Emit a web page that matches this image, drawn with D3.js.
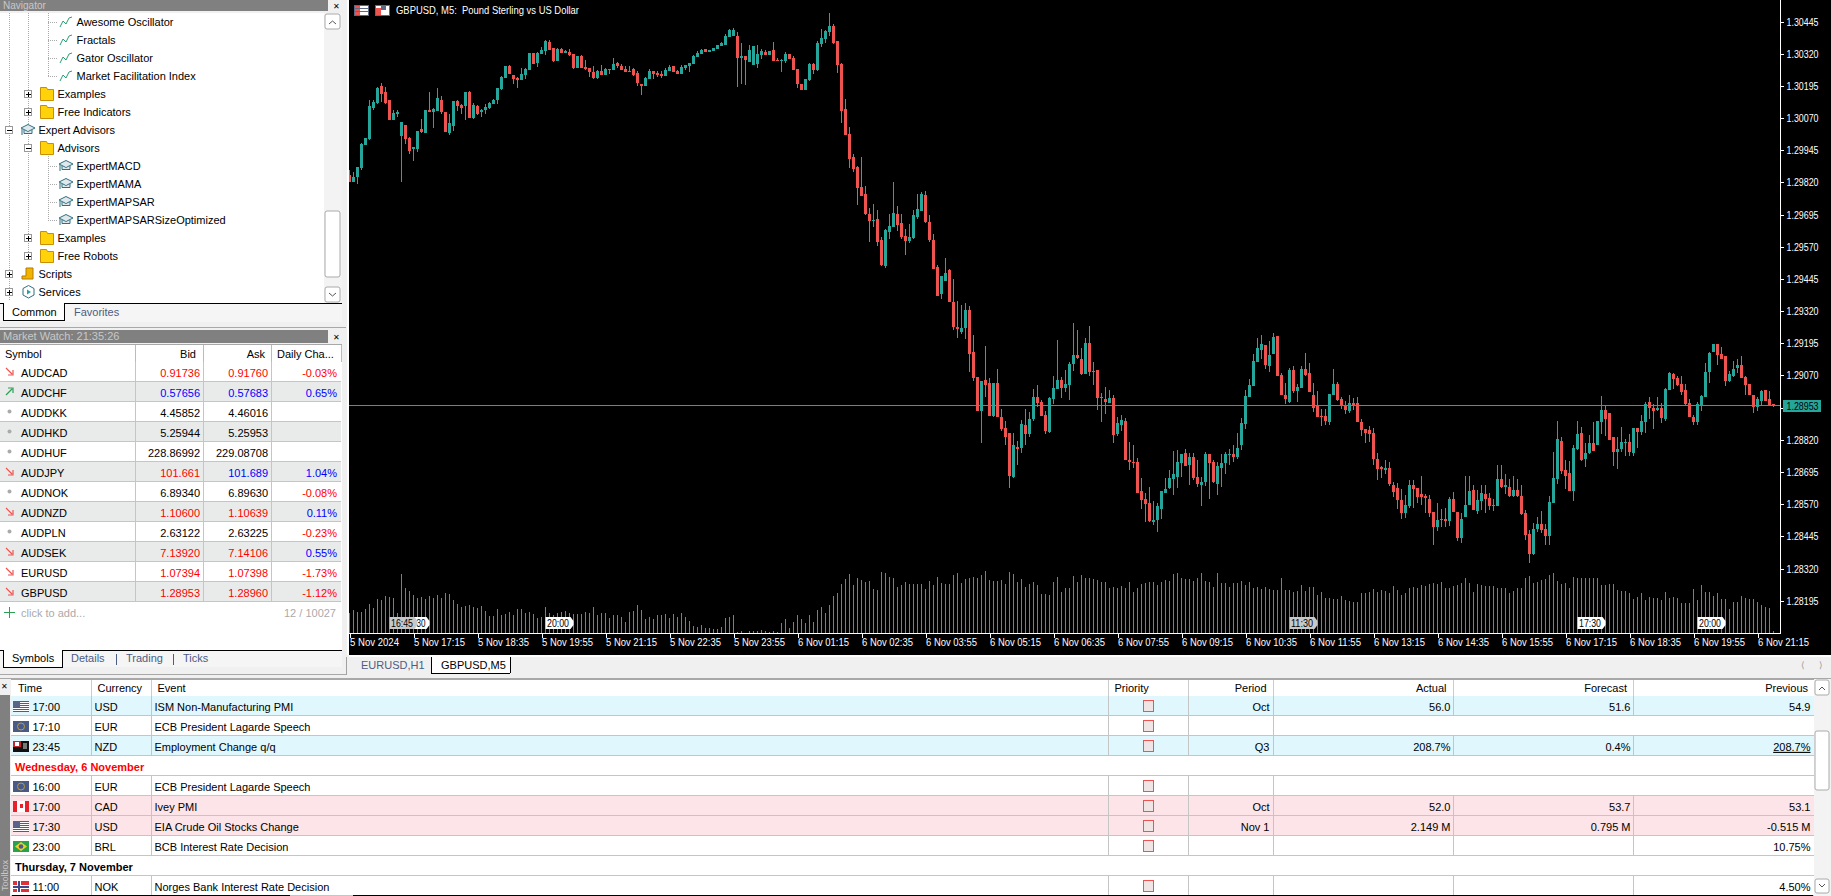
<!DOCTYPE html>
<html><head><meta charset="utf-8">
<script src="https://cdn.jsdelivr.net/npm/d3@7"></script>
<style>html,body{margin:0;padding:0;background:#f0f0f0;overflow:hidden}svg{display:block}text{font-family:"Liberation Sans",sans-serif;font-size:11px;white-space:pre}</style>
</head><body><div id="c"></div>
<script>
// Quotes are points above 1.00000 (29861 = 1.29861), one per 5-minute candle from 5 Nov 15:55.
const highs=[29868,29861,29880,29973,29993,30140,30140,30190,30206,30190,30140,30101,30101,30055,30043,29996,29958,30020,30066,30101,30171,30109,30187,30156,30093,30086,30136,30140,30124,30171,30175,30128,30121,30105,30124,30132,30144,30187,30233,30272,30276,30237,30229,30264,30264,30322,30322,30326,30346,30373,30373,30342,30342,30342,30334,30338,30318,30311,30315,30295,30264,30272,30256,30276,30264,30260,30303,30287,30280,30272,30272,30264,30253,30202,30229,30260,30253,30253,30253,30264,30276,30272,30256,30276,30276,30284,30315,30330,30338,30338,30334,30342,30353,30365,30396,30415,30419,30404,30361,30311,30353,30350,30353,30338,30334,30330,30365,30303,30299,30326,30318,30311,30260,30202,30221,30284,30284,30369,30415,30412,30478,30435,30369,30284,30144,30035,29930,29884,29919,29806,29721,29736,29713,29608,29639,29698,29822,29729,29698,29639,29659,29713,29775,29783,29787,29694,29620,29500,29457,29527,29484,29445,29360,29345,29352,29341,29228,29065,29050,29186,29061,29042,29096,28941,28895,28848,28848,28817,28898,28941,28929,29019,29034,28976,28933,28988,29069,29209,29065,29092,29123,29275,29248,29178,29217,29263,29123,29092,29003,29026,29015,28995,28910,28918,28906,28813,28798,28751,28673,28615,28635,28584,28576,28623,28673,28704,28778,28782,28766,28786,28770,28770,28743,28677,28774,28763,28743,28735,28766,28774,28786,28801,28848,28906,29015,29057,29154,29217,29228,29189,29205,29236,29224,29081,29042,29100,29108,29038,
29107,29158,29119,29042,29011,28938,28938,28999,29095,29046,28985,28969,28993,28981,28985,28902,28863,28874,28867,28767,28717,28741,28733,28656,28652,28630,28607,28664,28664,28634,28681,28611,28607,28538,28573,28553,28557,28599,28618,28538,28534,28678,28681,28645,28626,28645,28645,28615,28591,28721,28721,28689,28666,28678,28666,28643,28546,28469,28496,28520,28542,28492,28603,28771,28895,28832,28741,28737,28798,28895,28870,28806,28839,28889,28895,28989,28952,28926,28832,28832,28870,28824,28843,28867,28867,28918,28965,28985,28958,28985,28962,29023,29084,29080,29068,29068,29038,28977,28918,28965,28996,29119,29162,29191,29193,29182,29144,29088,29128,29132,29144,29068,29038,28996,28985,29015,29015,29011,28960];
const lows=[29822,29822,29814,29868,29965,29985,30101,30124,30132,30124,30062,30062,30074,29822,29969,29930,29903,29938,30012,30012,30093,30031,30097,30086,30016,30004,30020,30097,30086,30062,30070,30066,30082,30074,30086,30105,30124,30124,30179,30225,30241,30202,30187,30218,30221,30256,30280,30268,30318,30315,30334,30287,30291,30322,30322,30311,30260,30264,30264,30256,30229,30221,30221,30237,30237,30241,30256,30264,30256,30249,30249,30233,30194,30159,30194,30221,30221,30229,30225,30233,30253,30249,30241,30241,30256,30249,30280,30307,30318,30326,30326,30330,30338,30350,30353,30384,30388,30190,30202,30198,30287,30276,30264,30299,30315,30315,30291,30291,30249,30284,30299,30256,30187,30179,30179,30214,30241,30253,30346,30361,30388,30357,30245,30051,30004,29876,29861,29733,29768,29694,29589,29647,29574,29496,29488,29601,29647,29632,29601,29539,29585,29601,29678,29709,29663,29589,29484,29380,29368,29438,29356,29248,29217,29232,29213,29085,29050,28933,28809,28988,28914,28910,28910,28856,28801,28631,28673,28724,28770,28798,28829,28895,28949,28914,28844,28848,28960,29019,28984,29007,28976,29089,29135,29073,29077,29069,29034,28937,28891,28922,28964,28809,28836,28856,28743,28704,28712,28615,28553,28499,28499,28491,28460,28514,28615,28627,28604,28631,28677,28720,28646,28662,28635,28561,28642,28592,28654,28607,28638,28689,28724,28732,28747,28782,28863,28988,29030,29123,29135,29096,29085,29154,29069,28995,28960,28964,29003,28968,
29023,29068,29007,28928,28910,28874,28877,28877,28993,28969,28938,28920,28926,28935,28889,28836,28809,28813,28721,28662,28670,28687,28641,28599,28553,28512,28516,28557,28557,28573,28565,28534,28522,28412,28465,28481,28481,28485,28538,28425,28418,28520,28565,28546,28530,28546,28534,28546,28542,28561,28634,28611,28599,28599,28599,28526,28429,28343,28374,28462,28458,28410,28410,28573,28650,28689,28630,28622,28583,28782,28737,28713,28763,28778,28798,28843,28836,28820,28717,28706,28771,28756,28759,28759,28790,28839,28847,28899,28863,28930,28887,28895,29015,29019,29030,28996,28954,28910,28879,28879,28930,28985,29042,29160,29112,29132,29030,29046,29064,29080,29060,28996,28993,28926,28930,28952,28972,28952,28948];
const opens=[29849,29822,29841,29876,29965,29989,30109,30128,30194,30171,30140,30062,30086,30000,30043,29993,29950,29950,30027,30012,30101,30093,30097,30140,30093,30012,30039,30136,30121,30117,30171,30070,30117,30093,30101,30109,30124,30140,30183,30225,30272,30237,30225,30218,30237,30256,30322,30284,30318,30330,30365,30342,30291,30338,30322,30326,30318,30264,30311,30268,30264,30249,30225,30253,30237,30256,30256,30284,30272,30260,30249,30260,30245,30202,30194,30221,30253,30245,30241,30233,30253,30272,30253,30241,30264,30272,30280,30307,30318,30338,30326,30330,30338,30350,30353,30384,30388,30388,30303,30311,30287,30276,30280,30315,30326,30315,30334,30295,30291,30291,30318,30303,30260,30202,30179,30218,30280,30256,30357,30377,30404,30427,30369,30280,30105,30008,29919,29880,29802,29775,29698,29671,29678,29597,29496,29628,29647,29698,29663,29612,29593,29605,29686,29709,29771,29667,29597,29492,29387,29438,29480,29356,29259,29240,29255,29325,29162,29065,28933,29054,29042,28914,29042,28910,28867,28848,28677,28794,28790,28879,28844,28902,28988,28968,28918,28852,28980,29019,29054,29023,29034,29116,29151,29135,29077,29197,29085,29092,28988,28980,28964,28984,28844,28879,28895,28743,28735,28735,28623,28592,28576,28499,28510,28553,28615,28631,28669,28677,28728,28770,28724,28755,28677,28646,28658,28763,28735,28650,28712,28728,28763,28763,28755,28798,28883,28988,29030,29123,29170,29189,29108,29154,29224,29073,28995,28968,29092,29011,
29023,29095,29080,28996,28950,28914,28914,28889,28996,29038,28977,28954,28932,28962,28962,28889,28863,28859,28847,28744,28713,28702,28710,28645,28634,28587,28534,28561,28645,28634,28611,28603,28591,28538,28481,28508,28512,28504,28591,28538,28437,28520,28565,28626,28542,28581,28611,28595,28561,28561,28666,28638,28638,28603,28626,28603,28534,28453,28378,28473,28492,28473,28445,28573,28666,28817,28704,28693,28622,28786,28847,28744,28767,28809,28798,28891,28936,28926,28832,28771,28786,28809,28813,28767,28867,28851,28891,28965,28942,28936,28942,28899,29015,29076,29060,29038,29015,28962,28910,28891,28954,28985,29084,29160,29193,29155,29144,29050,29068,29099,29111,29064,29038,28993,28948,28969,29015,28977,28960];
const closes=[29822,29841,29880,29969,29993,30117,30132,30187,30163,30128,30062,30090,30093,30055,29989,29942,29958,30020,30016,30101,30093,30105,30148,30093,30016,30051,30136,30117,30109,30171,30070,30121,30086,30101,30113,30128,30140,30187,30229,30272,30241,30221,30218,30241,30260,30322,30280,30322,30334,30369,30334,30291,30338,30322,30330,30315,30264,30311,30264,30260,30249,30225,30253,30237,30260,30260,30280,30272,30256,30249,30253,30237,30206,30194,30225,30253,30241,30237,30233,30256,30268,30249,30241,30268,30276,30284,30311,30322,30334,30326,30334,30342,30353,30361,30388,30412,30412,30303,30311,30295,30334,30350,30318,30330,30315,30330,30291,30291,30295,30318,30299,30256,30202,30179,30221,30280,30256,30361,30381,30408,30427,30361,30276,30097,30004,29911,29872,29799,29768,29698,29671,29674,29589,29500,29636,29651,29702,29655,29608,29593,29608,29694,29717,29775,29667,29597,29484,29380,29457,29469,29356,29259,29251,29255,29325,29154,29061,28933,29050,29034,28914,29042,28910,28863,28832,28681,28798,28786,28883,28844,28902,28988,28964,28914,28856,28984,29023,29054,29023,29038,29116,29151,29139,29077,29197,29085,29089,28984,28984,28968,28984,28840,28887,28898,28743,28735,28732,28615,28588,28572,28503,28510,28561,28623,28627,28673,28689,28732,28766,28720,28755,28673,28650,28658,28766,28728,28658,28720,28728,28766,28766,28755,28790,28887,28992,29034,29127,29178,29193,29112,29151,29220,29069,28995,28980,29092,29011,29026,
29095,29072,29007,28942,28910,28908,28893,28999,29038,28973,28954,28935,28962,28954,28889,28859,28847,28843,28744,28706,28706,28710,28648,28618,28587,28534,28565,28645,28630,28599,28599,28595,28534,28481,28508,28512,28504,28591,28538,28437,28512,28565,28622,28546,28587,28615,28591,28561,28565,28666,28638,28643,28603,28626,28603,28530,28449,28378,28473,28492,28469,28445,28577,28670,28824,28697,28678,28622,28790,28843,28741,28767,28809,28778,28895,28936,28899,28820,28771,28786,28813,28813,28771,28867,28851,28895,28958,28942,28930,28944,28906,29019,29080,29057,29034,29007,28958,28910,28891,28958,28989,29084,29158,29191,29151,29134,29050,29076,29095,29111,29060,29034,28993,28948,28977,29011,28972,28956,28952];
const volumes=[60,69,64,64,71,87,76,101,99,111,107,105,60,177,135,127,114,105,107,102,111,105,113,105,120,118,99,87,79,81,84,77,74,81,66,51,51,72,54,56,62,54,72,72,59,63,57,44,47,79,59,54,59,62,67,60,56,56,56,64,61,78,54,61,59,44,54,54,49,34,62,65,84,69,41,47,41,54,54,57,44,57,49,61,47,37,21,19,24,14,14,11,12,19,44,49,54,2,7,1,7,7,7,9,7,4,7,4,29,41,14,34,54,41,31,54,34,69,77,61,84,111,119,147,162,177,144,164,159,153,157,131,129,182,179,167,164,137,143,153,147,147,147,147,132,156,144,169,151,148,147,174,179,150,162,164,169,164,174,186,159,155,156,159,147,183,177,153,162,139,147,154,144,
117,117,114,154,167,124,134,134,172,154,174,164,164,161,159,154,154,134,139,136,141,134,152,122,134,146,149,154,154,144,154,159,157,177,181,164,161,161,157,164,179,157,154,139,181,149,149,139,151,149,157,144,154,134,139,131,139,131,129,129,164,129,129,124,127,144,127,139,139,114,124,104,104,101,101,111,99,96,94,94,119,121,124,131,124,129,127,119,141,129,114,119,134,137,134,144,141,147,151,147,154,134,134,141,144,149,164,149,124,147,144,141,141,141,134,134,134,121,127,134,134,164,171,151,154,159,161,174,179,157,147,151,134,169,166,166,164,166,166,164,144,144,147,147,129,127,127,121,101,109,119,99,107,104,104,99,122,104,107,104,91,89,89,132,99,144,122,124,111,119,101,101,71,94,94,111,104,101,101,94,84,79,76,6];
const priceTicks=[1.30445,1.3032,1.30195,1.3007,1.29945,1.2982,1.29695,1.2957,1.29445,1.2932,1.29195,1.2907,1.28945,1.2882,1.28695,1.2857,1.28445,1.2832,1.28195];
const timeTicks=[0,16,32,48,64,80,96,112,128,144,160,176,192,208,224,240,256,272,288,304,320,336,352];
const timeLabels=["5 Nov 2024","5 Nov 17:15","5 Nov 18:35","5 Nov 19:55","5 Nov 21:15","5 Nov 22:35","5 Nov 23:55","6 Nov 01:15","6 Nov 02:35","6 Nov 03:55","6 Nov 05:15","6 Nov 06:35","6 Nov 07:55","6 Nov 09:15","6 Nov 10:35","6 Nov 11:55","6 Nov 13:15","6 Nov 14:35","6 Nov 15:55","6 Nov 17:15","6 Nov 18:35","6 Nov 19:55","6 Nov 21:15"];
const bidPrice=1.28953;
const eventTags=[["30",13,"#fff"],["16:45",10,"#c8c8c8"],["20:00",49,"#fff"],["11:30",235,"#c8c8c8"],["17:30",307,"#fff"],["20:00",337,"#fff"]];
const navRows=[["Awesome Oscillator",3,"ind"],["Fractals",3,"ind"],["Gator Oscillator",3,"ind"],["Market Facilitation Index",3,"ind"],["Examples",2,"plus"],["Free Indicators",2,"plus"],["Expert Advisors",1,"capminus"],["Advisors",2,"minus"],["ExpertMACD",3,"cap"],["ExpertMAMA",3,"cap"],["ExpertMAPSAR",3,"cap"],["ExpertMAPSARSizeOptimized",3,"cap"],["Examples",2,"plus"],["Free Robots",2,"plus"],["Scripts",1,"script"],["Services",1,"gear"]];
const watchSymbols=["AUDCAD","AUDCHF","AUDDKK","AUDHKD","AUDHUF","AUDJPY","AUDNOK","AUDNZD","AUDPLN","AUDSEK","EURUSD","GBPUSD"];
const watchBid=["0.91736","0.57656","4.45852","5.25944","228.86992","101.661","6.89340","1.10600","2.63122","7.13920","1.07394","1.28953"];
const watchAsk=["0.91760","0.57683","4.46016","5.25953","229.08708","101.689","6.89630","1.10639","2.63225","7.14106","1.07398","1.28960"];
const watchChange=["-0.03%","0.65%","","","","1.04%","-0.08%","0.11%","-0.23%","0.55%","-1.73%","-1.12%"];
const watchTrend=["d","u","n","n","n","d","n","d","n","d","d","d"];
const watchBidColor=["r","b","k","k","k","r","k","r","k","r","r","r"];
const watchAskColor=["r","b","k","k","k","b","k","r","k","r","r","r"];
const calendarRows=[["17:00","USD","ISM Non-Manufacturing PMI","Oct","56.0","51.6","54.9","us","#e1f7fe"],["17:10","EUR","ECB President Lagarde Speech","","","","","eu","#fff"],["23:45","NZD","Employment Change q/q","Q3","208.7%","0.4%","208.7%","nz","#e1f7fe"],["Wednesday, 6 November"],["16:00","EUR","ECB President Lagarde Speech","","","","","eu","#fff"],["17:00","CAD","Ivey PMI","Oct","52.0","53.7","53.1","ca","#fde4e8"],["17:30","USD","EIA Crude Oil Stocks Change","Nov 1","2.149 M","0.795 M","-0.515 M","us","#fde4e8"],["23:00","BRL","BCB Interest Rate Decision","","","","10.75%","br","#fff"],["Thursday, 7 November"],["11:00","NOK","Norges Bank Interest Rate Decision","","","","4.50%","no","#fff"]];

const W=1831,H=896,GREEN="#26a69a",RED="#ef5350",TABTXT="#4c5c84",FONT='"Liberation Sans",sans-serif';
const svg=d3.select("#c").append("svg").attr("width",W).attr("height",H).attr("viewBox",`0 0 ${W} ${H}`);
const R=(g,x,y,w,h,f,s)=>g.append("rect").attr("x",x).attr("y",y).attr("width",w).attr("height",h).attr("fill",f||"none").attr("stroke",s||"none").attr("shape-rendering","crispEdges");
const L=(g,x1,y1,x2,y2,s,d)=>g.append("line").attr("x1",x1).attr("y1",y1).attr("x2",x2).attr("y2",y2).attr("stroke",s).attr("shape-rendering","crispEdges").attr("stroke-dasharray",d||null);
const T=(g,t,x,y,o={})=>{const e=g.append("text").text(t).attr("x",x).attr("y",y).attr("dy","0.35em").attr("fill",o.f||"#000").attr("text-anchor",o.a||"start").attr("font-weight",o.w||null).style("font-size",o.s?o.s+"px":null);if(o.len)e.attr("textLength",o.len).attr("lengthAdjust","spacingAndGlyphs");return e;};
R(svg,0,0,W,H,"#f0f0f0");

/* ---------- chart ---------- */
const ch=svg.append("g");
R(ch,347,0,2,655,"#fff");
R(ch,349,0,W-349,655,"#000");
R(ch,349,655,W-349,2,"#fff");
const x=d3.scaleLinear().domain([0,356]).range([349.5,1773.5]);
const y=d3.scaleLinear().domain([1.30445,1.28195]).range([21.5,600.7]);
const vy=d3.scaleLinear().domain([0,300]).range([633,533]);
const px=v=>y(1+v/1e5);
const clipDef=svg.append("defs").append("clipPath").attr("id","plot");
clipDef.append("rect").attr("x",349).attr("y",0).attr("width",1431).attr("height",633);
const plot=ch.append("g").attr("clip-path","url(#plot)");
plot.selectAll(".vol").data(volumes).join("rect").attr("class","vol").attr("x",(d,i)=>Math.round(x(i)-.5)).attr("width",1).attr("y",d=>vy(d)).attr("height",d=>vy(0)-vy(d)).attr("fill",GREEN).attr("shape-rendering","crispEdges");
const candles=closes.map((c,i)=>({i,o:opens[i],h:highs[i],l:lows[i],c}));
plot.selectAll(".wick").data(candles).join("rect").attr("class","wick").attr("x",d=>Math.round(x(d.i)-.5)).attr("width",1)
 .attr("y",d=>Math.round(px(d.h))).attr("height",d=>Math.max(1,Math.round(px(d.l))-Math.round(px(d.h))))
 .attr("fill",d=>d.c>=d.o?GREEN:RED).attr("shape-rendering","crispEdges");
plot.selectAll(".body").data(candles).join("rect").attr("class","body").attr("x",d=>Math.round(x(d.i)-1.5)).attr("width",3)
 .attr("y",d=>Math.round(px(Math.max(d.o,d.c)))).attr("height",d=>Math.max(1,Math.round(px(Math.min(d.o,d.c)))-Math.round(px(Math.max(d.o,d.c)))))
 .attr("fill",d=>d.c>=d.o?GREEN:RED).attr("shape-rendering","crispEdges");
// bid line
L(ch,349,Math.round(y(bidPrice))-.5,1780,Math.round(y(bidPrice))-.5,GREEN);
// axes
const axR=d3.axisRight(y).tickValues(priceTicks).tickSize(3).tickFormat(d3.format(".5f"));
const gR=ch.append("g").attr("transform","translate(1780.5,0)").call(axR);
gR.select(".domain").remove();
L(ch,1780.5,0,1780.5,633,"#fff");
gR.selectAll("line").attr("stroke","#fff").attr("shape-rendering","crispEdges");
gR.selectAll("text").attr("fill","#fff").attr("x",6).attr("textLength",32).attr("lengthAdjust","spacingAndGlyphs").style("font-size","11px").style("font-family",FONT);
const axB=d3.axisBottom(x).tickValues(timeTicks).tickSize(4).tickFormat((d,i)=>timeLabels[i]);
const gB=ch.append("g").attr("transform","translate(0,633.5)").call(axB);
gB.select(".domain").remove();
L(ch,349,633.5,1780.5,633.5,"#fff");
gB.selectAll("line").attr("stroke","#fff").attr("shape-rendering","crispEdges");
gB.selectAll("text").attr("fill","#fff").attr("text-anchor","start").attr("y",5).attr("textLength",(d,i)=>i?51:49).attr("lengthAdjust","spacingAndGlyphs").style("font-size","11px").style("font-family",FONT);
// bid tag
const by=Math.round(y(bidPrice));
R(ch,1783,by-6,38,12,GREEN);
T(ch,d3.format(".5f")(bidPrice),1786.5,by,{s:11,len:32});
// event tags
eventTags.forEach(([t,i,c])=>{const x0=x(i),full=t.length>2;
  ch.append("path").attr("d",`M${x0} 617h25l3 4v4l-3 4h-25z`).attr("fill",c);
  T(ch,t,full?x0+1.5:x0+15,623,{s:10.5,len:full?22:9});
});
// header
const hdr=ch.append("g");
R(hdr,354.5,5.5,14,10,"#fff","#5c6a85");
R(hdr,355,6,5,9,"#ef5350");L(hdr,355,8.5,368,8.5,"#5c6a85");L(hdr,355,11.5,368,11.5,"#5c6a85");
R(hdr,375.5,5.5,14,10,"#fff","#5c6a85");R(hdr,376,8,5,7,"#ef5350");R(hdr,381,6,5,4,"#5c6a85");
T(hdr,"GBPUSD, M5:  Pound Sterling vs US Dollar",396,10,{f:"#fff",s:11,len:183});
// tabs under chart
R(svg,0,677.5,W,1,"#a8a8a8");
T(svg,"EURUSD,H1",361,665,{f:TABTXT});
R(svg,431,657,79,16,"#fff");L(svg,431,657,431,673,"#000");L(svg,510,657,510,673,"#000");L(svg,431,673.5,510,673.5,"#000");
T(svg,"GBPUSD,M5",441,665);
L(svg,346.5,657,346.5,675,"#a0a0a0");
T(svg,"⟨",1801,665,{f:"#999",s:9});T(svg,"⟩",1819,665,{f:"#999",s:9});

/* ---------- navigator ---------- */
const nav=svg.append("g");
R(nav,0,0,328,11,"#808080");
T(nav,"Navigator",3,5.5,{f:"#c8c8c8",s:10});
T(nav,"✕",333,6,{s:8});
R(nav,0,13,324,290,"#fff");
R(nav,324,13,18,290,"#f3f3f3");
nav.append("rect").attr("x",325).attr("y",14).attr("width",15).attr("height",15).attr("rx",2).attr("fill","#fff").attr("stroke","#aaa");
nav.append("rect").attr("x",325).attr("y",211).attr("width",15).attr("height",66).attr("rx",2).attr("fill","#fff").attr("stroke","#aaa");
nav.append("rect").attr("x",325).attr("y",287).attr("width",15).attr("height",15).attr("rx",2).attr("fill","#fff").attr("stroke","#aaa");
nav.append("path").attr("d","M329 24l3.5-3 3.5 3").attr("fill","none").attr("stroke","#555");
nav.append("path").attr("d","M329 293l3.5 3 3.5-3").attr("fill","none").attr("stroke","#555");
const dots="1,1";
L(nav,9.5,13,9.5,300,"#aaa",dots);L(nav,28.5,13,28.5,256,"#aaa",dots);L(nav,48.5,13,48.5,76,"#aaa",dots);L(nav,48.5,148,48.5,220,"#aaa",dots);
const box=(g,cx,cy,plus)=>{R(g,cx-3.5,cy-3.5,7,7,"#fff","#999");L(g,cx-2,cy+.5,cx+3,cy+.5,"#000");if(plus)L(g,cx+.5,cy-2,cx+.5,cy+3,"#000");};
const folder=(g,cy)=>{g.append("path").attr("d",`M40.5 ${cy-6.5}h6l1 2h6v11h-13z`).attr("fill","#ffd20a").attr("stroke","#c88f00");};
const cap=(g,cx,cy)=>{g.append("path").attr("d",`M${cx-7} ${cy-2}l7-3.5 7 3.5-7 3.5z M${cx-4} ${cy}v3.5h8v-3.5`).attr("fill","#dfe8ec").attr("stroke","#2f6f7f");g.append("path").attr("d",`M${cx-6} ${cy-1}v6`).attr("stroke","#2f6f7f").attr("fill","none");};
navRows.forEach(([t,lv,ic],k)=>{const cy=22+18*k,tx=lv===3?76.5:lv===2?57.5:38.5;
  T(nav,t,tx,cy,{});
  if(lv===3)L(nav,48,cy+.5,58,cy+.5,"#aaa",dots);
  if(ic==="ind"){nav.append("path").attr("d",`M60 ${cy+5}l3-6 3 3 3-6 3-1`).attr("fill","none").attr("stroke","#2aa070");}
  if(ic==="cap")cap(nav,66,cy);
  if(lv===2){box(nav,28,cy,ic==="plus");folder(nav,cy);}
  if(lv===1){box(nav,9,cy,ic==="capminus"?false:true);}
  if(ic==="capminus")cap(nav,28,cy);
  if(ic==="script"){nav.append("path").attr("d",`M26 ${cy-6}h7v11h-11v-3h4z`).attr("fill","#f3b400").attr("stroke","#b27d00");}
  if(ic==="gear"){nav.append("path").attr("d",`M28.5 ${cy-6.5}l5.5 3v6.5l-5.5 3-5.5-3v-6.5z`).attr("fill","#fff").attr("stroke","#2f6f7f");nav.append("path").attr("d",`M27 ${cy-2.5}l4 2.5-4 2.5z`).attr("fill","#2aa0a0");}
});
L(nav,0,303.5,342,303.5,"#000");
R(nav,0,304,342,18,"#f5f5f5");
R(nav,3,303,61,17,"#fff");L(nav,3,303,3,320,"#000");L(nav,64.5,303,64.5,320,"#000");L(nav,3,320.5,65,320.5,"#000");
T(nav,"Common",12,312,{});T(nav,"Favorites",74,312,{f:TABTXT});
R(nav,0,326.5,346,1,"#a8a8a8");

/* ---------- market watch ---------- */
const mw=svg.append("g");
R(mw,0,330,328,13,"#808080");
T(mw,"Market Watch: 21:35:26",3,336,{f:"#c8c8c8"});
T(mw,"✕",333,337,{s:8});
R(mw,0,344,342,306,"#fff");
L(mw,0,344.5,342,344.5,"#a8a8a8");
[135.5,203.5,271.5,341.5].forEach(v=>L(mw,v,345,v,362,"#bbb"));
T(mw,"Symbol",5,354);T(mw,"Bid",196,354,{a:"end"});T(mw,"Ask",265,354,{a:"end"});T(mw,"Daily Cha...",277,354);
const tone={r:"#f00",b:"#00f",k:"#000"};
const chgColor=s=>s[0]==="-"?"#f00":"#00f";
watchSymbols.forEach((s,k)=>{const cy=373+20*k,top=362+20*k;
  if(k%2)R(mw,0,top,341,20,"#e9eaea");
  L(mw,0,top+19.5,341,top+19.5,"#c4c6c6");
});
[135.5,203.5,271.5].forEach(v=>L(mw,v,362,v,602,"#c4c6c6"));
watchSymbols.forEach((s,k)=>{const cy=373+20*k;
  const tr=watchTrend[k];
  if(tr==="d")mw.append("path").attr("d",`M6 ${cy-5}l6 6 M13 ${cy-3}v5h-5`).attr("stroke","#ef5350").attr("fill","none").attr("stroke-width",1.2);
  else if(tr==="u")mw.append("path").attr("d",`M6 ${cy+2}l6-6 M8 ${cy-5}h5v5`).attr("stroke","#2aa052").attr("fill","none").attr("stroke-width",1.2);
  else mw.append("circle").attr("cx",9.5).attr("cy",cy-1.5).attr("r",2).attr("fill","#aaa");
  T(mw,s,21,cy);
  T(mw,watchBid[k],200,cy,{a:"end",f:tone[watchBidColor[k]]});
  T(mw,watchAsk[k],268,cy,{a:"end",f:tone[watchAskColor[k]]});
  if(watchChange[k])T(mw,watchChange[k],337,cy,{a:"end",f:chgColor(watchChange[k])});
});
mw.append("path").attr("d","M9.5 607v11M4 612.5h11").attr("stroke","#2aa052").attr("fill","none");
T(mw,"click to add...",21,613,{f:"#aaa"});T(mw,"12 / 10027",336,613,{a:"end",f:"#aaa"});
L(mw,0,650.5,342,650.5,"#000");
R(mw,0,651,342,16,"#f5f5f5");
R(mw,3,650,59,17,"#fff");L(mw,3,650,3,667,"#000");L(mw,62.5,650,62.5,667,"#000");L(mw,3,667.5,63,667.5,"#000");
T(mw,"Symbols",12,658);T(mw,"Details",71,658,{f:TABTXT});T(mw,"Trading",126,658,{f:TABTXT});T(mw,"Ticks",183,658,{f:TABTXT});
L(mw,116.5,654,116.5,665,TABTXT);L(mw,173.5,654,173.5,665,TABTXT);
R(mw,0,673.5,346,1,"#a8a8a8");

/* ---------- calendar ---------- */
const cal=svg.append("g");
R(cal,11,679,1803,217,"#fff");
L(cal,11,679.5,1814,679.5,"#a8a8a8");
const colX=[91.5,151.5,1108.5,1188.5,1273.5,1453.5,1633];
T(cal,"✕",1,686,{s:8});
R(cal,0,695,10,201,"#808080");
cal.append("text").text("Toolbox").attr("transform","translate(8,891) rotate(-90)").attr("fill","#c8c8c8").style("font-size","9px");
calendarRows.forEach((r,k)=>{const top=696+20*k;
  R(cal,11,top,1803,20,r.length>1?r[8]:"#fff");
  L(cal,11,top+19.5,1814,top+19.5,"#c4c6c6");
});
colX.forEach(v=>L(cal,v,680,v,696,"#ccc"));
["Time","Currency","Event"].forEach((t,i)=>T(cal,t,[18,97.5,157.5][i],688));
T(cal,"Priority",1114.5,688);
T(cal,"Period",1266.5,688,{a:"end"});T(cal,"Actual",1446.5,688,{a:"end"});T(cal,"Forecast",1627,688,{a:"end"});T(cal,"Previous",1808,688,{a:"end"});
const flag=(g,c,x0,cy)=>{const yy=cy-6,w=16,h=11;
  if(c==="us"){R(g,x0,yy,w,h,"#fff");[0,2,4,6,8,10].forEach(n=>R(g,x0,yy+n,w,1,"#e8202a"));R(g,x0,yy,7,6,"#5a6488");}
  if(c==="eu"){R(g,x0,yy,w,h,"#4a5a86");g.append("circle").attr("cx",x0+8).attr("cy",yy+5.5).attr("r",3.5).attr("fill","none").attr("stroke","#c49a2a");}
  if(c==="nz"){R(g,x0,yy,w,h,"#111");R(g,x0,yy,8,6,"#c8242c");R(g,x0+2,yy+1,4,4,"#fff");R(g,x0+10,yy+2,4,6,"#777");}
  if(c==="ca"){R(g,x0,yy,w,h,"#fff");R(g,x0,yy,4,h,"#e8202a");R(g,x0+12,yy,4,h,"#e8202a");R(g,x0+6.5,yy+3,3,4,"#e8202a");}
  if(c==="br"){R(g,x0,yy,w,h,"#2aa24a");g.append("path").attr("d",`M${x0+8} ${yy+1}l6 4.5-6 4.5-6-4.5z`).attr("fill","#f0d020");g.append("circle").attr("cx",x0+8).attr("cy",yy+5.5).attr("r",2.3).attr("fill","#4a5a96");}
  if(c==="no"){R(g,x0,yy,w,h,"#e0303a");R(g,x0+4,yy,4,h,"#fff");R(g,x0,yy+3.5,w,4,"#fff");R(g,x0+5,yy,2,h,"#3a4a8a");R(g,x0,yy+4.5,w,2,"#3a4a8a");}
};
calendarRows.forEach((r,k)=>{const cy=707+20*k;
  if(r.length===1){T(cal,r[0],15,cy,{w:"bold",f:k===3?"#f00":"#000"});return;}
  flag(cal,r[7],13,cy);
  T(cal,r[0],32.5,cy);T(cal,r[1],94.5,cy);T(cal,r[2],154.5,cy);
  R(cal,1143,cy-6.5,10.5,10.5,"#f0e4e4","#ef5350");
  T(cal,r[3],1269.5,cy,{a:"end"});T(cal,r[4],1450.5,cy,{a:"end"});T(cal,r[5],1630.5,cy,{a:"end"});
  const prev=T(cal,r[6],1810.5,cy,{a:"end"});
  if(k===2)prev.style("text-decoration","underline dotted");
  [91.5,151.5,1108.5,1188.5,1273.5].forEach(v=>L(cal,v,cy-11,v,cy+9,"#c4c6c6"));
  if(r[4]||r[5]||r[6])[1453.5,1633].forEach(v=>L(cal,v,cy-11,v,cy+9,"#c4c6c6"));
});
R(cal,1814,679,17,217,"#f3f3f3");
[[680,15],[731,59],[879,14]].forEach(([t,h])=>cal.append("rect").attr("x",1815).attr("y",t).attr("width",14).attr("height",h).attr("rx",2).attr("fill","#fff").attr("stroke","#aaa"));
cal.append("path").attr("d","M1819 690l3-3 3 3").attr("fill","none").attr("stroke","#555");
cal.append("path").attr("d","M1819 884l3 3 3-3").attr("fill","none").attr("stroke","#555");
L(cal,12,895.5,290,895.5,"#000");L(cal,353,895.5,1813,895.5,"#000");
</script></body></html>
